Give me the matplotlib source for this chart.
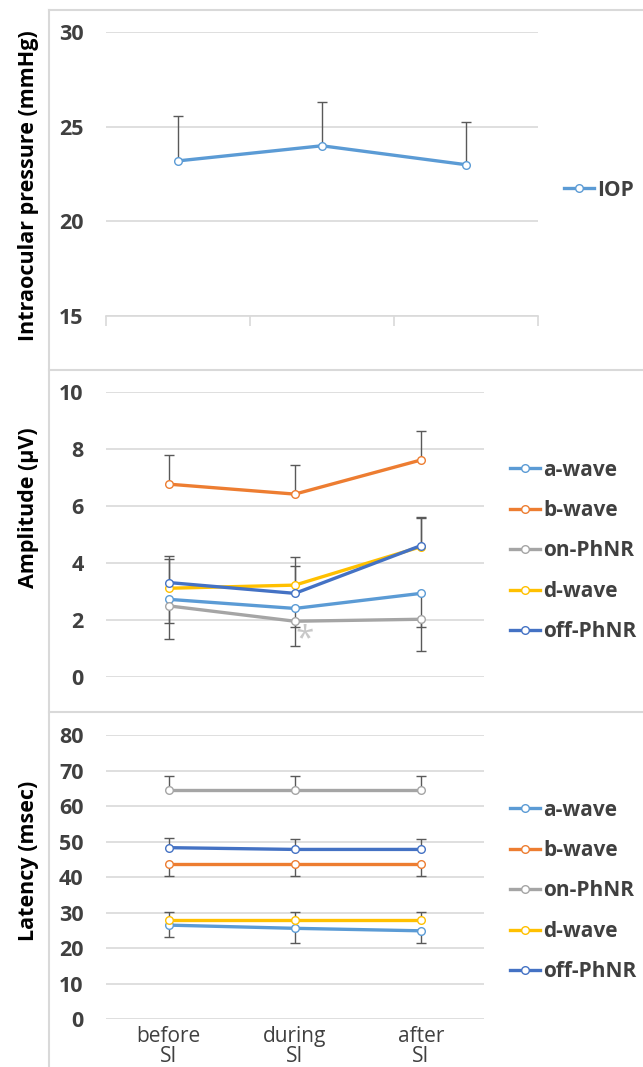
import matplotlib
matplotlib.use("Agg")
import matplotlib.pyplot as plt
from matplotlib.lines import Line2D
import numpy as np

plt.rcParams['font.family'] = ['Open Sans', 'DejaVu Sans']

# categories
phases = ["before\nSI", "during\nSI", "after\nSI"]

# intraocular pressure
iop = [23.2, 24.0, 23.0]
iop_up = [2.35, 2.3, 2.25]

# amplitude (uV)
series_names = ["a-wave", "b-wave", "on-PhNR", "d-wave", "off-PhNR"]
colors = ["#5B9BD5", "#ED7D31", "#A5A5A5", "#FFC000", "#4472C4"]

amp_a = [2.72, 2.40, 2.93]
amp_b = [6.77, 6.42, 7.62]
amp_on = [2.49, 1.95, 2.02]
amp_d = [3.11, 3.22, 4.57]
amp_off = [3.31, 2.93, 4.61]
# error bars: + upward, - downward
amp_a_err = [-0.84, -0.64, -1.17]
amp_b_err = [1.03, 1.01, 1.01]
amp_on_err = [-1.18, -0.86, -1.11]
amp_d_err = [1.03, 0.68, 1.00]
amp_off_err = [0.94, 1.29, 1.02]

# latency (msec)
lat_a = [26.5, 25.6, 24.9]
lat_b = [43.7, 43.7, 43.7]
lat_on = [64.6, 64.6, 64.6]
lat_d = [27.9, 27.9, 27.9]
lat_off = [48.3, 47.8, 47.8]
lat_a_err = [-3.3, -4.0, -3.3]
lat_b_err = [-3.4, -3.4, -3.4]
lat_on_err = [3.9, 3.9, 3.9]
lat_d_err = [2.3, 2.3, 2.3]
lat_off_err = [2.6, 2.9, 2.9]

W, H = 643, 1067
fig = plt.figure(figsize=(W / 100, H / 100), dpi=100)

def px_axes(x0, x1, ytop, ybot):
    return fig.add_axes([x0 / W, 1 - ybot / H, (x1 - x0) / W, (ybot - ytop) / H])

tick_col = "#404040"
grid_col = "#D9D9D9"
err_col = "#595959"

def style(ax, lo, hi, step, label):
    ax.set_xlim(-0.5, 2.5)
    ax.set_ylim(lo, hi)
    ax.set_yticks(np.arange(lo, hi + 0.01, step))
    ax.yaxis.grid(True, color=grid_col, lw=1.2)
    ax.set_axisbelow(True)
    for s in ax.spines.values():
        s.set_visible(False)
    ax.tick_params(axis='y', length=0, pad=16, labelsize=15.5, labelcolor=tick_col)
    for t in ax.get_yticklabels():
        t.set_fontweight('bold')
    ax.set_xticks([])
    ax.set_ylabel(label, fontsize=15.5, fontweight='bold', color='black')

def draw_series(ax, x, vals, errs, color, name):
    vals = np.array(vals)
    ends = vals + np.array(errs)
    ax.vlines(x, vals, ends, color=err_col, lw=1, zorder=2)
    ax.plot(x, ends, ls='none', marker='_', ms=7, mew=1, color=err_col, zorder=2)
    ax.plot(x, vals, color=color, lw=2.4, marker='o', ms=5.5, mfc='white',
            mec=color, mew=1, label=name, zorder=3)

x = np.arange(len(phases))

# top panel
ax1 = px_axes(105.8, 538, 32.3, 316)
style(ax1, 15, 30, 5, "Intraocular pressure (mmHg)")
draw_series(ax1, x, iop, iop_up, "#5B9BD5", "IOP")
ax1.spines['bottom'].set_visible(True)
ax1.spines['bottom'].set_color(grid_col)
ax1.spines['bottom'].set_linewidth(1.2)
ax1.set_xticks([-0.5, 0.5, 1.5, 2.5], minor=True)
ax1.tick_params(axis='x', which='minor', length=7, color=grid_col, width=1.2)
ax1.yaxis.set_label_coords(-0.155, 0.46)

# middle panel
ax2 = px_axes(105.8, 484, 392.3, 676.7)
style(ax2, 0, 10, 2, "Amplitude (µV)")
amp_vals = [amp_a, amp_b, amp_on, amp_d, amp_off]
amp_errs = [amp_a_err, amp_b_err, amp_on_err, amp_d_err, amp_off_err]
for v, e, c, n in zip(amp_vals, amp_errs, colors, series_names):
    draw_series(ax2, x, v, e, c, n)
ax2.text(1.08, 1.3, "*", color="#C8C8C8", fontsize=24, ha='center', va='center')
ax2.yaxis.set_label_coords(-0.177, 0.595)

# bottom panel
ax3 = px_axes(105.8, 484, 735, 1019.3)
style(ax3, 0, 80, 10, "Latency (msec)")
lat_vals = [lat_a, lat_b, lat_on, lat_d, lat_off]
lat_errs = [lat_a_err, lat_b_err, lat_on_err, lat_d_err, lat_off_err]
for v, e, c, n in zip(lat_vals, lat_errs, colors, series_names):
    draw_series(ax3, x, v, e, c, n)
ax3.set_xticks(x)
ax3.set_xticklabels(phases, fontsize=15, color=tick_col, linespacing=0.9)
ax3.tick_params(axis='x', length=0, pad=5)
ax3.yaxis.set_label_coords(-0.177, 0.556)

leg_kw = dict(frameon=False, borderpad=0, borderaxespad=0, handlelength=1.45,
              handletextpad=0.15, labelspacing=0.93, loc='center left',
              bbox_transform=fig.transFigure,
              prop={'size': 15, 'weight': 'bold'})
l1 = ax1.legend(bbox_to_anchor=(564 / W, 1 - 190 / H), **leg_kw)
l2 = ax2.legend(bbox_to_anchor=(510 / W, 1 - 551 / H), **leg_kw)
l3 = ax3.legend(bbox_to_anchor=(510 / W, 1 - 891 / H), **leg_kw)
for lg in (l1, l2, l3):
    for t in lg.get_texts():
        t.set_color(tick_col)

# panel frames
def fline(x0, y0, x1, y1):
    fig.add_artist(Line2D([x0 / W, x1 / W], [1 - y0 / H, 1 - y1 / H],
                          transform=fig.transFigure, color=grid_col, lw=1.5))

fline(49, 10, 643, 10)
fline(49, 370, 643, 370)
fline(49, 712, 643, 712)
fline(49, 10, 49, 1067)

fig.savefig("out.png", dpi=100)
